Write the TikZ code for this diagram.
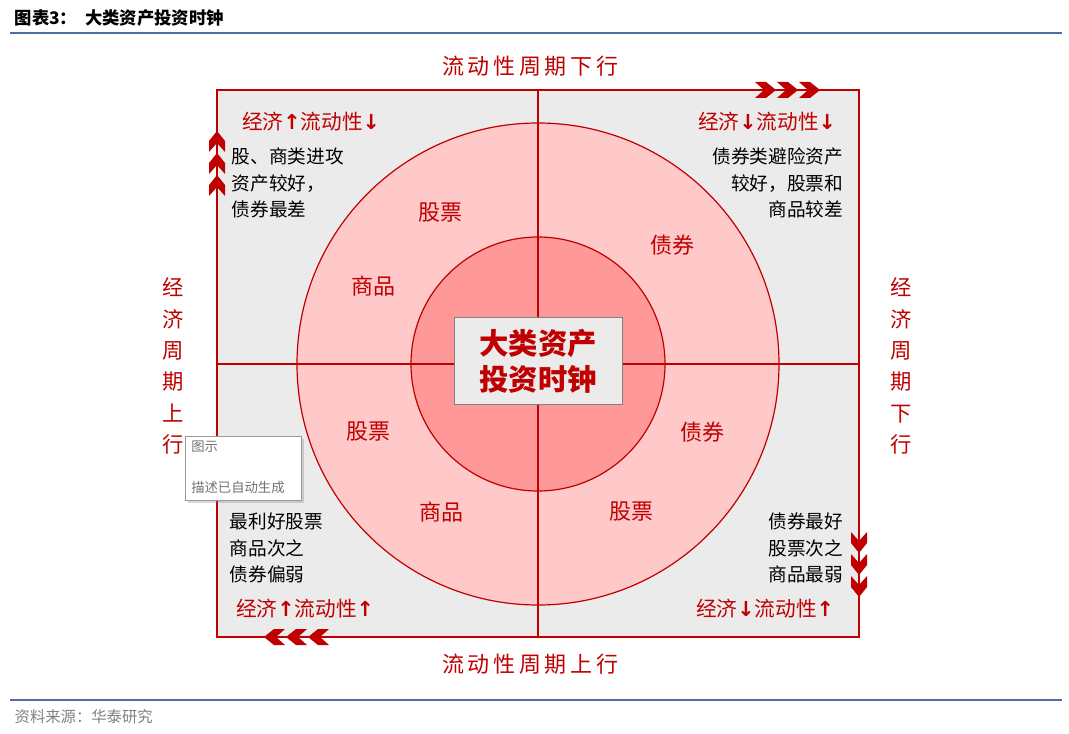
\documentclass[tikz,border=0pt]{standalone}
\usepackage{fontspec}
\setmainfont{Noto Sans CJK SC}
\newfontfamily\dv{DejaVu Sans}
\newcommand{\UA}{{\dv\bfseries ↑}}
\newcommand{\DA}{{\dv\bfseries ↓}}
\usetikzlibrary{shadows}
\definecolor{dred}{HTML}{C00000}
\definecolor{bgray}{HTML}{EBEBEB}
\definecolor{ring}{HTML}{FFC9C9}
\definecolor{core}{HTML}{FF9999}
\definecolor{rule}{HTML}{4F6F9F}
\tikzset{
  px/.style={x=0.75pt,y=-0.75pt},
  redt/.style={text=dred,font=\fontsize{15.5}{17}\selectfont},
  blk/.style={text=black,font=\fontsize{14}{20}\selectfont,align=left},
  ringt/.style={text=dred,font=\fontsize{16.5}{18}\selectfont},
  chev/.pic={\fill[dred] (0,-8)--(11,-8)--(21,0)--(11,8)--(0,8)--(9,0)--cycle;}
}
\begin{document}
\begin{tikzpicture}[px]
\useasboundingbox (0,0) rectangle (1069,734);
\node[anchor=west,font=\bfseries\fontsize{13}{15}\selectfont] (title) at (10,18) {图表3：\ \ 大类资产投资时钟};
\draw[rule,line width=1pt] (10,33) -- (1062,33);
\draw[rule,line width=1pt] (10,700) -- (1062,700);
\node[anchor=west,text=gray,font=\fontsize{11.5}{13}\selectfont] (src) at (10,717) {资料来源：华泰研究};
% box
\fill[bgray] (217,90) rectangle (859,637);
\fill[ring,draw=dred,line width=0.9pt] (538,364) circle (241);
\fill[core,draw=dred,line width=0.9pt] (538,364) circle (127);
\draw[dred,line width=1.2pt] (217,90) rectangle (859,637);
\draw[dred,line width=1.2pt] (538,90) -- (538,637);
\draw[dred,line width=1.2pt] (217,364) -- (859,364);
\node[fill=bgray,draw=gray,minimum width=168*0.75pt,minimum height=87*0.75pt,align=center,text=dred,font=\bfseries\fontsize{22}{27}\selectfont] (center) at (538,361) {大类资产\\投资时钟};
% outside labels
\node[redt,font=\fontsize{16.5}{18}\selectfont] (top) at (530,66) {流\,动\,性\,周\,期\,下\,行};
\node[redt,font=\fontsize{16.5}{18}\selectfont] (bot) at (530,664) {流\,动\,性\,周\,期\,上\,行};
\node[redt,align=center,font=\fontsize{16}{23.5}\selectfont] (left) at (173,366) {经\\济\\周\\期\\上\\行};
\node[redt,align=center,font=\fontsize{16}{23.5}\selectfont] (right) at (901,366) {经\\济\\周\\期\\下\\行};
% chevrons
\foreach \x in {755,777,799} \pic at (\x,90) {chev};
\foreach \y in {196,174,152} \pic[rotate=90] at (217,\y) {chev};
\foreach \x in {329,307,285} \pic[rotate=180] at (\x,637) {chev};
\foreach \y in {532,554,576} \pic[rotate=-90] at (859,\y) {chev};
% quadrant headers
\node[redt] (q1) at (311,122) {经济\UA 流动性\DA};
\node[redt] (q2) at (767,122) {经济\DA 流动性\DA};
\node[redt] (q3) at (305,609) {经济\UA 流动性\UA};
\node[redt] (q4) at (765,609) {经济\DA 流动性\UA};
% quadrant texts
\node[blk,anchor=north west] (t1) at (227,143) {股、商类进攻\\资产较好，\\债券最差};
\node[blk,align=right,anchor=north east] (t2) at (848,143) {债券类避险资产\\较好，股票和\\商品较差};
\node[blk,anchor=north west] (t3) at (225,508) {最利好股票\\商品次之\\债券偏弱};
\node[blk,align=right,anchor=north east] (t4) at (848,508) {债券最好\\股票次之\\商品最弱};
% ring labels
\node[ringt] (r1) at (440,213) {股票};
\node[ringt] (r2) at (373,286) {商品};
\node[ringt] (r3) at (672,245) {债券};
\node[ringt] (r4) at (368,432) {股票};
\node[ringt] (r5) at (441,512) {商品};
\node[ringt] (r6) at (702,432) {债券};
\node[ringt] (r7) at (631,512) {股票};
% tooltip
\node[fill=white,draw=gray!80,drop shadow={opacity=0.3,shadow xshift=2pt,shadow yshift=-2pt},minimum width=116*0.75pt,minimum height=64*0.75pt,anchor=north west,inner sep=0pt] (tip) at (185,436) {};
\node[anchor=north west,text=gray!90!black,font=\fontsize{10}{12}\selectfont,inner sep=0pt] (tipa) at (191,441) {图示};
\node[anchor=north west,text=gray!90!black,font=\fontsize{10}{12}\selectfont,inner sep=0pt] (tipb) at (191,481) {描述已自动生成};
\end{tikzpicture}
\end{document}
